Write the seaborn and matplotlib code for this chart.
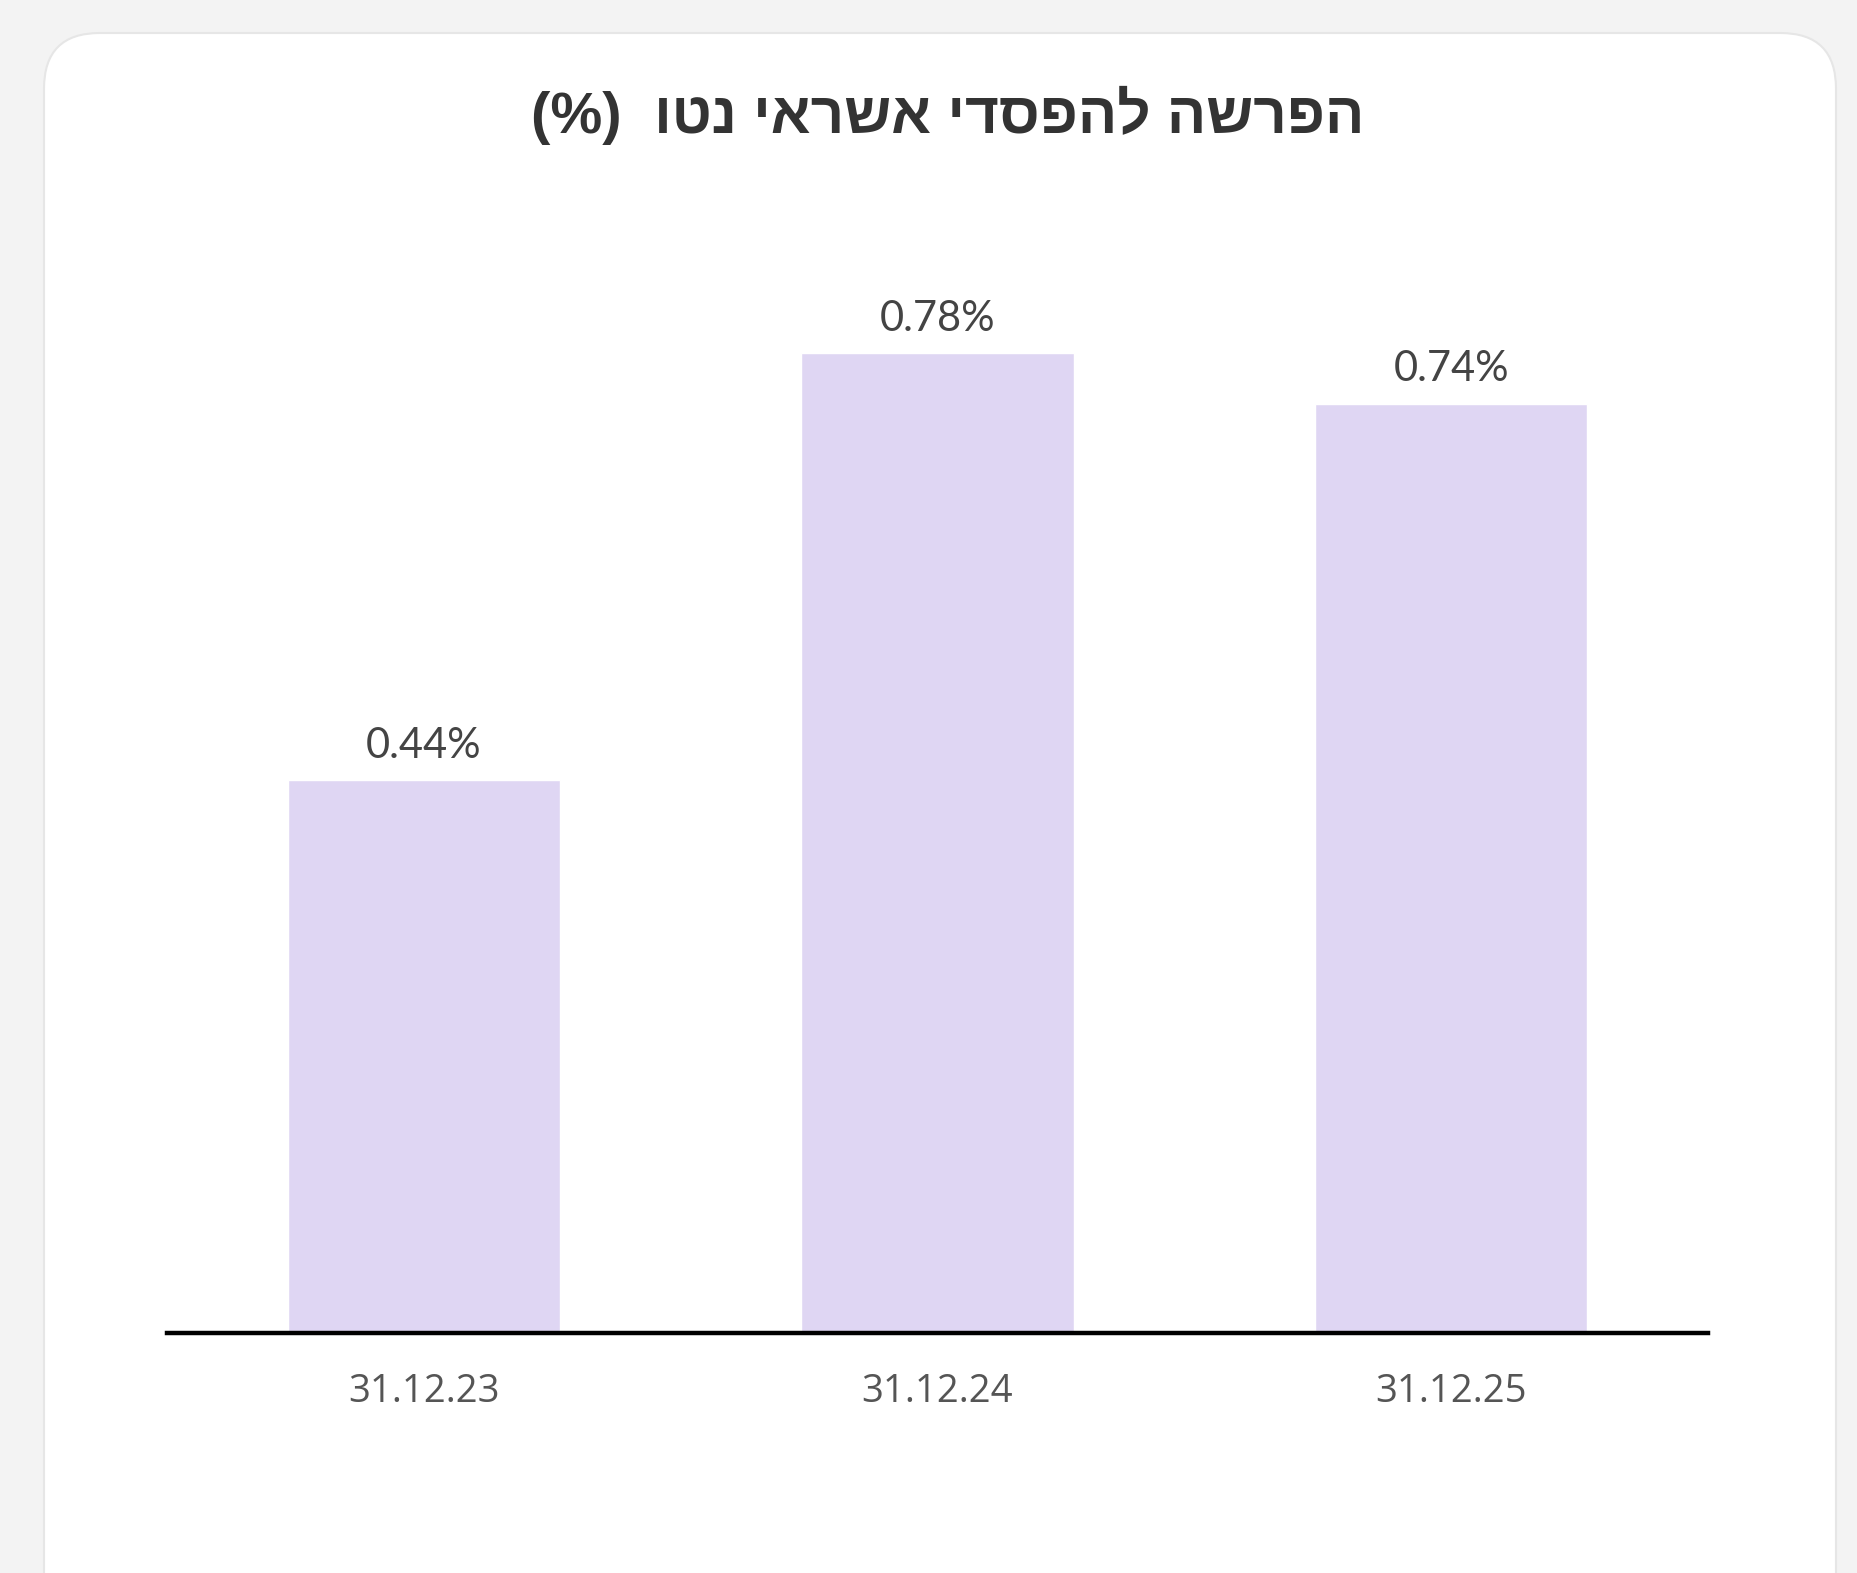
import matplotlib
matplotlib.use("Agg")
import matplotlib.pyplot as plt
from matplotlib.patches import FancyBboxPatch
import seaborn as sns
import pandas as pd

# ---- data ----
categories = ["31.12.23", "31.12.24", "31.12.25"]
values = [0.44, 0.78, 0.74]
value_labels = ["0.44%", "0.78%", "0.74%"]
title_logical = "הפרשה להפסדי אשראי נטו  (%)"


def visual_rtl(s):
    # matplotlib has no bidi support: reverse and mirror brackets
    mirror = {"(": ")", ")": "(", "[": "]", "]": "["}
    return "".join(mirror.get(c, c) for c in s[::-1])


sns.set_theme(style="white")
plt.rcParams["font.family"] = ["Open Sans", "DejaVu Sans"]

W, H = 1858, 1573
fig = plt.figure(figsize=(W / 100, H / 100), dpi=100)
fig.patch.set_facecolor("#f3f3f3")

# card background
card = FancyBboxPatch((44 / W, -0.05), (1836 - 44) / W, (1573 - 33) / H + 0.05,
                      boxstyle="round,pad=0,rounding_size=0.03",
                      transform=fig.transFigure, facecolor="white",
                      edgecolor="#e6e6e6", linewidth=1.5, zorder=-10,
                      mutation_aspect=W / H)
fig.patches.append(card)

ax_left, ax_right = 167 / W, 1708 / W
ax_bottom = 1 - 1333 / H
ax_top = 1 - (1333 - 0.9 * 1256) / H
ax = fig.add_axes([ax_left, ax_bottom, ax_right - ax_left, ax_top - ax_bottom])
ax.set_zorder(5)
ax.set_facecolor("none")

df = pd.DataFrame({"date": categories, "value": values})
sns.barplot(data=df, x="date", y="value", color="#DFD6F3", saturation=1,
            width=0.53, ax=ax, zorder=2)

ax.set_xlim(-0.5, 2.5)
ax.set_ylim(0, 0.9)
ax.set_xlabel("")
ax.set_ylabel("")
ax.set_yticks([])
for s in ["top", "right", "left"]:
    ax.spines[s].set_visible(False)
ax.spines["bottom"].set_color("black")
ax.spines["bottom"].set_linewidth(3.2)
ax.spines["bottom"].set_zorder(3)
ax.tick_params(axis="x", length=0, pad=29, labelsize=27.5, labelcolor="#555555")
for lab in ax.get_xticklabels():
    lab.set_family(["Open Sans", "DejaVu Sans"])

for i, (v, t) in enumerate(zip(values, value_labels)):
    ax.annotate(t, xy=(i, v), xytext=(0, 11), textcoords="offset points",
                ha="center", va="bottom", fontsize=30, color="#444444",
                family=["Lato", "DejaVu Sans"], fontweight="normal")

fig.text(948 / W, 1 - 115 / H, visual_rtl(title_logical), ha="center",
         va="center", fontsize=42, fontweight="bold", color="#333333",
         family=["Liberation Sans", "DejaVu Sans"])

fig.savefig("out.png", dpi=100, facecolor=fig.get_facecolor())
